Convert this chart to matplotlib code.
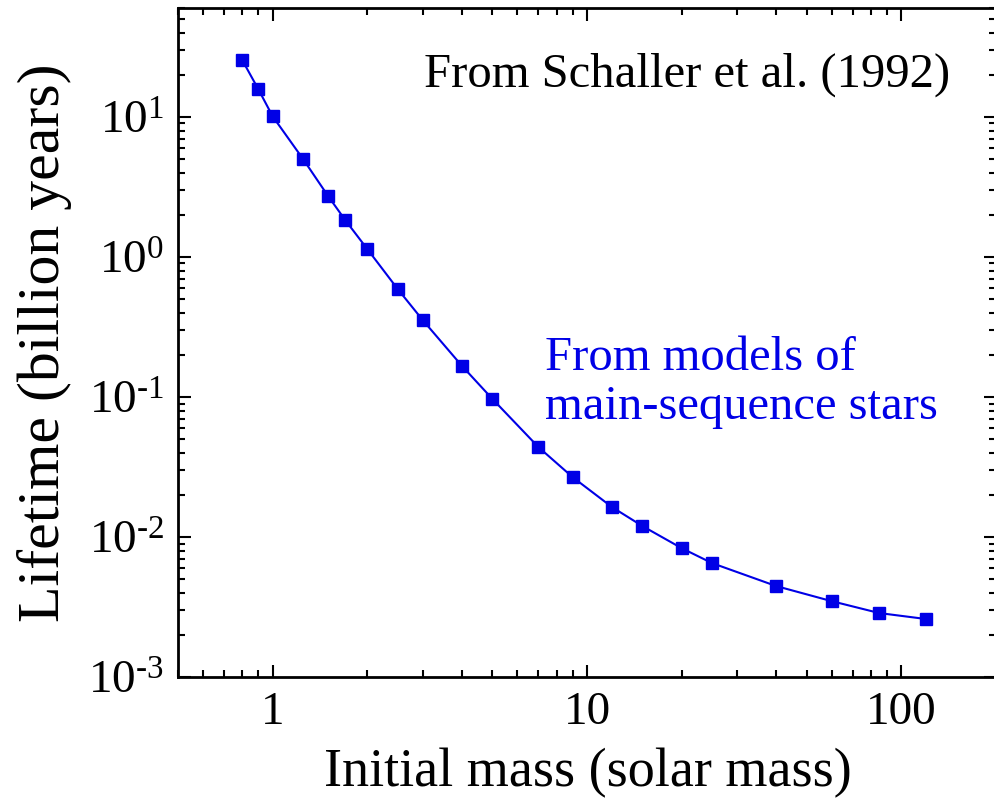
import matplotlib
matplotlib.use('Agg')
import matplotlib.pyplot as plt
from matplotlib.ticker import LogLocator, FixedLocator, FixedFormatter, NullFormatter

plt.rcParams['font.family'] = ['Liberation Serif', 'DejaVu Serif']
plt.rcParams['mathtext.fontset'] = 'custom'
plt.rcParams['mathtext.rm'] = 'Liberation Serif'
plt.rcParams['mathtext.default'] = 'regular'

# Schaller et al. (1992) 모델: 초기 질량 vs 수명
mass = [0.8, 0.9, 1.0, 1.25, 1.5, 1.7, 2.0, 2.5, 3.0, 4.0, 5.0, 7.0, 9.0,
        12.0, 15.0, 20.0, 25.0, 40.0, 60.0, 85.0, 120.0]
lifetime = [25.5, 15.8, 10.1, 5.0, 2.73, 1.84, 1.14, 0.59, 0.355, 0.167,
            0.097, 0.044, 0.0268, 0.0164, 0.012, 0.00834, 0.00652,
            0.00447, 0.00349, 0.00287, 0.0026]

x_ticks = [1, 10, 100]
x_labels = ['1', '10', '100']
y_ticks = [1e-3, 1e-2, 1e-1, 1e0, 1e1]
y_labels = [r'$10^{\text{-}3}$', r'$10^{\text{-}2}$', r'$10^{\text{-}1}$',
            r'$10^{0}$', r'$10^{1}$']

blue = '#0000e6'

fig = plt.figure(figsize=(9.95, 8.1), dpi=100)
ax = fig.add_axes([0.179, 0.164, 0.822, 0.826])

ax.plot(mass, lifetime, '-', color=blue, lw=1.5, marker='s', ms=9,
        mec=blue, mfc=blue)

ax.set_xscale('log')
ax.set_yscale('log')
ax.set_xlim(0.5, 200)
ax.set_ylim(1e-3, 60)

ax.xaxis.set_major_locator(FixedLocator(x_ticks))
ax.xaxis.set_major_formatter(FixedFormatter(x_labels))
ax.xaxis.set_minor_locator(LogLocator(base=10, subs=range(2, 10)))
ax.xaxis.set_minor_formatter(NullFormatter())
ax.yaxis.set_major_locator(FixedLocator(y_ticks))
ax.yaxis.set_major_formatter(FixedFormatter(y_labels))
ax.yaxis.set_minor_locator(LogLocator(base=10, subs=range(2, 10)))
ax.yaxis.set_minor_formatter(NullFormatter())

ax.tick_params(which='both', direction='in', top=True, right=True, width=1.5)
ax.tick_params(which='major', length=9, labelsize=34, pad=10)
ax.tick_params(which='minor', length=5)
for s in ax.spines.values():
    s.set_linewidth(2)

ax.set_xlabel('Initial mass (solar mass)', fontsize=39)
ax.set_ylabel('Lifetime (billion years)', fontsize=43)
ax.xaxis.set_label_coords(0.501, -0.106)
ax.yaxis.set_label_coords(-0.13, 0.5)

ax.text(0.944, 0.901, 'From Schaller et al. (1992)', transform=ax.transAxes,
        fontsize=35, ha='right', va='center')
ax.text(0.449, 0.44, 'From models of\nmain-sequence stars', transform=ax.transAxes,
        fontsize=35, color=blue, ha='left', va='center', linespacing=1.15)

fig.savefig('out.png', dpi=100)
